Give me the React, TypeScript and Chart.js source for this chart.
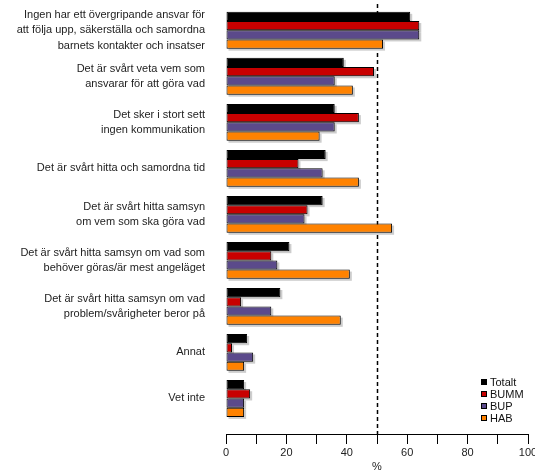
import React, { useEffect, useRef } from 'react';
import { Chart, registerables } from 'chart.js';

Chart.register(...registerables);

const categories: string[][] = [
  ['Ingen har ett övergripande ansvar för', 'att följa upp, säkerställa och samordna', 'barnets kontakter och insatser'],
  ['Det är svårt veta vem som', 'ansvarar för att göra vad'],
  ['Det sker i stort sett', 'ingen kommunikation'],
  ['Det är svårt hitta och samordna tid'],
  ['Det är svårt hitta samsyn', 'om vem som ska göra vad'],
  ['Det är svårt hitta samsyn om vad som', 'behöver göras/är mest angeläget'],
  ['Det är svårt hitta samsyn om vad', 'problem/svårigheter beror på'],
  ['Annat'],
  ['Vet inte'],
];

const seriesNames = ['Totalt', 'BUMM', 'BUP', 'HAB'];
const seriesColors = ['#000000', '#c80000', '#5b4a8b', '#ff8200'];

const totalt = [61, 39, 36, 33, 32, 21, 18, 7, 6];
const bumm = [64, 49, 44, 24, 27, 15, 5, 2, 8];
const bup = [64, 36, 36, 32, 26, 17, 15, 9, 6];
const hab = [52, 42, 31, 44, 55, 41, 38, 6, 6];

const xTickValues = [0, 10, 20, 30, 40, 50, 60, 70, 80, 90, 100];
const xTickLabels = ['0', '', '20', '', '40', '', '60', '', '80', '', '100'];
const referenceValue = 50;
const axisTitle = '%';

const FONT = "'Liberation Sans', Arial, sans-serif";

const refLinePlugin = {
  id: 'refLine',
  beforeDatasetsDraw(chart: any) {
    const { ctx, chartArea, scales } = chart;
    const x = Math.round(scales.x.getPixelForValue(referenceValue)) + 0.5;
    ctx.save();
    ctx.strokeStyle = '#000';
    ctx.lineWidth = 1.5;
    ctx.setLineDash([4, 3]);
    ctx.beginPath();
    ctx.moveTo(x, chartArea.top);
    ctx.lineTo(x, chartArea.bottom);
    ctx.stroke();
    ctx.restore();
    // bar shadows
    ctx.save();
    ctx.fillStyle = '#cdcdcd';
    chart.data.datasets.forEach((_: any, di: number) => {
      const meta = chart.getDatasetMeta(di);
      meta.data.forEach((bar: any) => {
        const p = bar.getProps(['x', 'y', 'base', 'height'], true);
        const left = Math.min(p.base, p.x);
        const w = Math.abs(p.x - p.base);
        ctx.fillRect(left + 2, p.y - p.height / 2 + 2, w, p.height);
      });
    });
    ctx.restore();
  },
};

export default function App() {
  const canvasRef = useRef<HTMLCanvasElement | null>(null);

  useEffect(() => {
    document.body.style.margin = '0';
    const canvas = canvasRef.current;
    if (!canvas) return;
    const series = [totalt, bumm, bup, hab];
    const chart = new Chart(canvas, {
      type: 'bar',
      data: {
        labels: categories.map((_, i) => i),
        datasets: series.map((d, i) => ({
          label: seriesNames[i],
          data: d,
          backgroundColor: seriesColors[i],
          borderColor: '#000',
          borderWidth: 1,
          borderSkipped: false,
          categoryPercentage: 0.8,
          barPercentage: 1,
        })),
      },
      options: {
        indexAxis: 'y',
        responsive: false,
        animation: false,
        layout: { padding: { top: 4, left: 0, right: 9, bottom: 0 } },
        plugins: { legend: { display: false }, tooltip: { enabled: false } },
        scales: {
          y: {
            type: 'linear',
            reverse: true,
            offset: false,
            bounds: 'data',
            min: -0.57,
            max: 8.772,
            afterBuildTicks: (s: any) => {
              s.ticks = categories.map((_, i) => ({ value: i }));
            },
            afterFit: (s: any) => {
              s.width = 226;
              s.paddingTop = 0;
              s.paddingBottom = 0;
            },
            grid: { display: false, drawTicks: false, offset: false },
            border: { display: false },
            ticks: {
              autoSkip: false,
              padding: 21,
              color: '#222',
              font: { family: FONT, size: 11, lineHeight: 1.4 },
              callback: (v: any) => categories[v] ?? '',
            },
          },
          x: {
            type: 'linear',
            bounds: 'data',
            min: 0,
            max: 100,
            afterBuildTicks: (s: any) => {
              s.ticks = xTickValues.map((v) => ({ value: v }));
            },
            afterFit: (s: any) => {
              s.height = 37;
              s.paddingLeft = 0;
              s.paddingRight = 0;
            },
            grid: {
              drawOnChartArea: false,
              drawTicks: true,
              tickLength: 10,
              tickColor: '#000',
              color: '#000',
            },
            border: { display: true, color: '#000', width: 1 },
            ticks: {
              autoSkip: false,
              maxRotation: 0,
              padding: 2,
              color: '#222',
              font: { family: FONT, size: 11 },
              callback: (v: any) => {
                const i = xTickValues.indexOf(v);
                return i >= 0 ? xTickLabels[i] : '';
              },
            },
            title: {
              display: true,
              text: axisTitle,
              color: '#222',
              padding: { top: 0, bottom: 0 },
              font: { family: FONT, size: 11, lineHeight: 0.7 },
            },
          },
        },
      } as any,
      plugins: [refLinePlugin],
    });
    return () => chart.destroy();
  }, []);

  return (
    <div
      style={{
        position: 'fixed',
        left: 0,
        top: 0,
        width: 535,
        height: 471,
        overflow: 'hidden',
        background: '#fff',
      }}
    >
      <canvas ref={canvasRef} width={537} height={471} style={{ display: 'block', position: 'absolute', left: 0, top: 0 }} />
      <div
        style={{
          position: 'absolute',
          left: 481,
          top: 376,
          fontFamily: FONT,
          fontSize: 11,
          lineHeight: '12px',
          color: '#111',
        }}
      >
        {seriesNames.map((n, i) => (
          <div key={n} style={{ display: 'flex', alignItems: 'center', height: 12 }}>
            <span
              style={{
                display: 'inline-block',
                width: 4,
                height: 4,
                border: '1px solid #000',
                background: seriesColors[i],
                marginRight: 3,
              }}
            />
            <span>{n}</span>
          </div>
        ))}
      </div>
    </div>
  );
}
